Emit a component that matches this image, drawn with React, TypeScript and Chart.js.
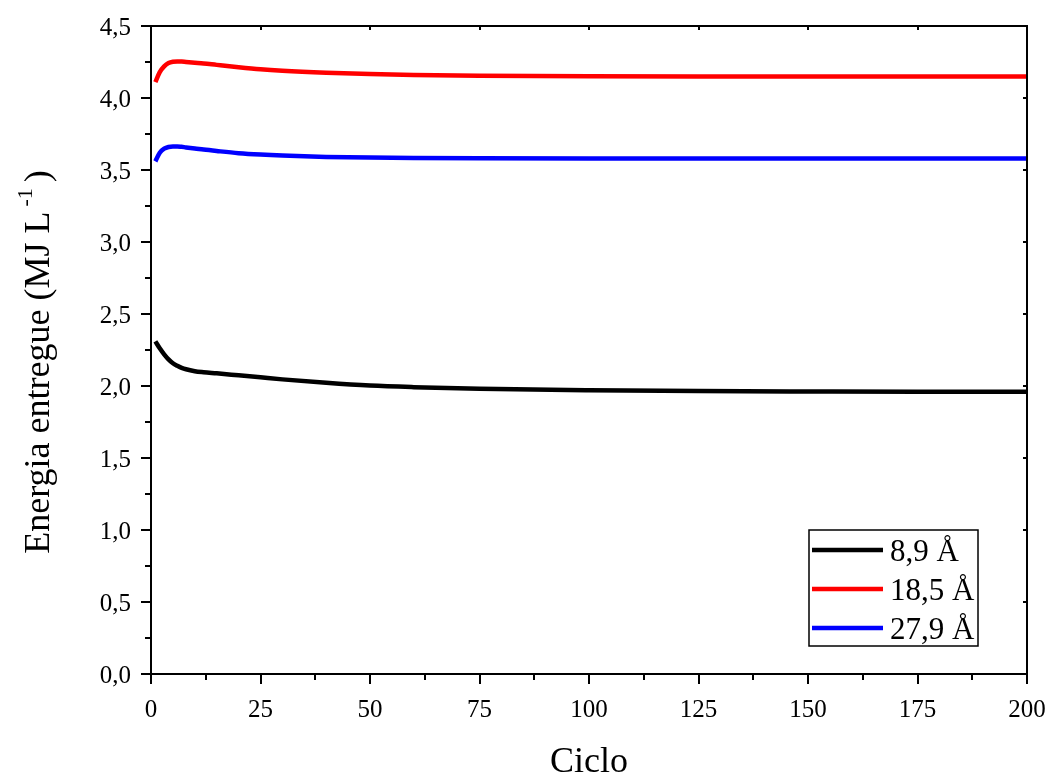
import React, { useEffect, useRef } from "react";
import { Chart, registerables } from "chart.js";

Chart.register(...registerables);

const cycles = [1, 2, 3, 4, 5, 6, 7, 8, 10, 12, 15, 20, 25, 30, 40, 50, 60, 75, 100, 125, 150, 175, 200];
const energy89 = [2.31, 2.262, 2.22, 2.185, 2.158, 2.14, 2.126, 2.116, 2.103, 2.096, 2.088, 2.074, 2.06, 2.046, 2.022, 2.003, 1.992, 1.981, 1.971, 1.965, 1.962, 1.96, 1.96];
const energy185 = [4.11, 4.18, 4.22, 4.243, 4.252, 4.254, 4.253, 4.25, 4.245, 4.24, 4.23, 4.214, 4.2, 4.19, 4.176, 4.166, 4.16, 4.155, 4.151, 4.15, 4.15, 4.15, 4.15];
const energy279 = [3.56, 3.62, 3.648, 3.66, 3.664, 3.664, 3.661, 3.657, 3.65, 3.642, 3.632, 3.617, 3.607, 3.6, 3.591, 3.586, 3.583, 3.581, 3.58, 3.58, 3.58, 3.58, 3.58];
const seriesLabels = ["8,9 Å", "18,5 Å", "27,9 Å"];
const seriesColors = ["#000000", "#ff0000", "#0000ff"];
const xMajorTicks = [0, 25, 50, 75, 100, 125, 150, 175, 200];
const xMinorTicks = [12.5, 37.5, 62.5, 87.5, 112.5, 137.5, 162.5, 187.5];
const yMajorTicks = [0, 0.5, 1, 1.5, 2, 2.5, 3, 3.5, 4, 4.5];
const yMinorTicks = [0.25, 0.75, 1.25, 1.75, 2.25, 2.75, 3.25, 3.75, 4.25];
const xTitle = "Ciclo";
const yTitleMain = "Energia entregue (MJ L";
const yTitleSup = "-1";
const yTitleEnd = ")";

const FONT = "'Liberation Serif', 'Times New Roman', serif";

const framePlugin = {
  id: "frame",
  afterDraw(chart: any) {
    const { ctx, chartArea } = chart;
    const xs = chart.scales.x;
    const ys = chart.scales.y;
    const { left, right, top, bottom } = chartArea;
    ctx.save();
    ctx.strokeStyle = "#000";
    ctx.lineWidth = 2;
    ctx.lineCap = "butt";
    ctx.strokeRect(left, top, right - left, bottom - top);
    ctx.beginPath();
    for (const v of xMajorTicks) {
      const p = Math.round(xs.getPixelForValue(v));
      ctx.moveTo(p, bottom); ctx.lineTo(p, bottom + 10);
      ctx.moveTo(p, top); ctx.lineTo(p, top + 4);
    }
    for (const v of xMinorTicks) {
      const p = Math.round(xs.getPixelForValue(v));
      ctx.moveTo(p, bottom); ctx.lineTo(p, bottom + 6);
    }
    for (const v of yMajorTicks) {
      const p = Math.round(ys.getPixelForValue(v));
      ctx.moveTo(left, p); ctx.lineTo(left - 10, p);
      ctx.moveTo(right, p); ctx.lineTo(right - 4, p);
    }
    for (const v of yMinorTicks) {
      const p = Math.round(ys.getPixelForValue(v));
      ctx.moveTo(left, p); ctx.lineTo(left - 6, p);
    }
    ctx.stroke();

    ctx.fillStyle = "#000";
    ctx.font = `25px ${FONT}`;
    ctx.textAlign = "center";
    ctx.textBaseline = "alphabetic";
    for (const v of xMajorTicks) {
      ctx.fillText(String(v), xs.getPixelForValue(v), bottom + 43);
    }
    ctx.textAlign = "right";
    for (const v of yMajorTicks) {
      ctx.fillText(v.toFixed(1).replace(".", ","), left - 20, ys.getPixelForValue(v) + 9);
    }

    ctx.font = `36px ${FONT}`;
    ctx.textAlign = "center";
    ctx.fillText(xTitle, (left + right) / 2, bottom + 98);

    const mainFont = `36px ${FONT}`;
    const supFont = `22px ${FONT}`;
    ctx.font = mainFont;
    const wMain = ctx.measureText(yTitleMain).width;
    const wEnd = ctx.measureText(yTitleEnd).width;
    ctx.font = supFont;
    const wSup = ctx.measureText(yTitleSup).width;
    const gap1 = 5;
    const gap2 = 6;
    const total = wMain + gap1 + wSup + gap2 + wEnd;
    ctx.translate(49, 362);
    ctx.rotate(-Math.PI / 2);
    ctx.textAlign = "left";
    let x = -total / 2;
    ctx.font = mainFont;
    ctx.fillText(yTitleMain, x, 0);
    x += wMain + gap1;
    ctx.font = supFont;
    ctx.fillText(yTitleSup, x, -17);
    x += wSup + gap2;
    ctx.font = mainFont;
    ctx.fillText(yTitleEnd, x, 0);
    ctx.restore();

    ctx.save();
    const bx = right - 218;
    const by = bottom - 144;
    const bw = 169;
    const bh = 116;
    ctx.fillStyle = "#fff";
    ctx.fillRect(bx, by, bw, bh);
    ctx.strokeStyle = "#000";
    ctx.lineWidth = 1.5;
    ctx.strokeRect(bx, by, bw, bh);
    ctx.font = `31px ${FONT}`;
    ctx.textAlign = "left";
    ctx.textBaseline = "alphabetic";
    chart.data.datasets.forEach((ds: any, i: number) => {
      const ly = by + 20 + i * 39;
      ctx.strokeStyle = ds.borderColor;
      ctx.lineWidth = 4.5;
      ctx.beginPath();
      ctx.moveTo(bx + 3, ly);
      ctx.lineTo(bx + 74, ly);
      ctx.stroke();
      ctx.fillStyle = "#000";
      ctx.fillText(ds.label, bx + 81, ly + 11);
    });
    ctx.restore();
  },
};

export default function App() {
  const ref = useRef<HTMLCanvasElement | null>(null);
  useEffect(() => {
    document.body.style.margin = "0";
    const canvas = ref.current;
    if (!canvas) return;
    const seriesValues = [energy89, energy185, energy279];
    const chart = new Chart(canvas, {
      type: "line",
      data: {
        datasets: seriesValues.map((vals, i) => ({
          label: seriesLabels[i],
          data: cycles.map((c, j) => ({ x: c, y: vals[j] })),
          borderColor: seriesColors[i],
          backgroundColor: seriesColors[i],
          borderWidth: 4.5,
          pointRadius: 0,
          cubicInterpolationMode: "monotone" as const,
          fill: false,
        })),
      },
      options: {
        animation: false,
        responsive: false,
        maintainAspectRatio: false,
        layout: { padding: { left: 0, right: 22, top: 26, bottom: 0 } },
        plugins: { legend: { display: false }, tooltip: { enabled: false } },
        scales: {
          x: {
            type: "linear",
            min: 0,
            max: 200,
            grid: { display: false },
            border: { display: false },
            ticks: { display: false },
            afterFit: (s: any) => { s.height = 99; },
          },
          y: {
            type: "linear",
            min: 0,
            max: 4.5,
            grid: { display: false },
            border: { display: false },
            ticks: { display: false },
            afterFit: (s: any) => { s.width = 151; },
          },
        },
      },
      plugins: [framePlugin],
    });
    return () => chart.destroy();
  }, []);
  return (
    <div style={{ width: 1049, height: 773, background: "#fff" }}>
      <canvas ref={ref} width={1049} height={773} style={{ display: "block" }} />
    </div>
  );
}
